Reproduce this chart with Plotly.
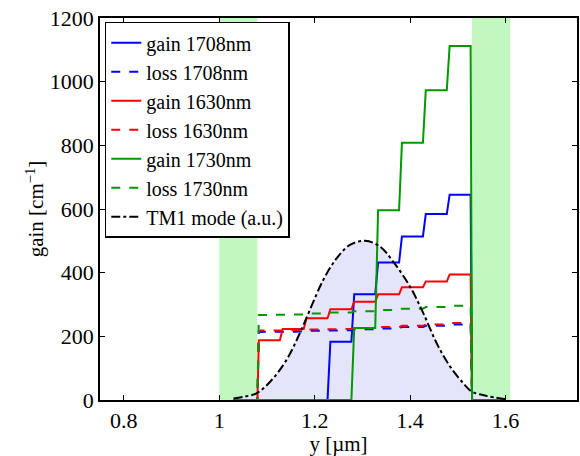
import plotly.graph_objects as go

# Layer boundaries along y [um]
bounds = [1.08, 1.13, 1.18, 1.23, 1.28, 1.33, 1.38, 1.43, 1.48, 1.53]
x_start, x_end = 1.03, 1.60

gain_1708 = [0, 0, 0, 183, 332, 432, 514, 584, 645]
loss_1708 = [214, 215, 217, 219, 222, 225, 229, 233, 237]
gain_1630 = [188, 223, 257, 285, 309, 332, 354, 372, 394]
loss_1630 = [218, 219, 221, 223, 226, 229, 233, 237, 242]
gain_1730 = [0, 0, 0, 0, 226, 596, 808, 973, 1112]
loss_1730 = [267, 269, 272, 275, 279, 283, 287, 292, 296]

mode_x = [1.03, 1.05, 1.078, 1.11, 1.141, 1.169, 1.19, 1.218, 1.246, 1.274,
          1.306, 1.337, 1.365, 1.40, 1.428, 1.456, 1.484, 1.512, 1.53, 1.56, 1.60]
mode_y = [5, 10, 21, 63, 126, 210, 283, 377, 445, 487,
          500, 482, 434, 356, 272, 178, 105, 52, 26, 13, 2]

# Cladding (green) bands
bands = [(1.00, 1.08), (1.53, 1.61)]

BLUE, RED, GREEN = "#0000ff", "#ff0000", "#009a00"
FONT = "Liberation Serif, Times New Roman, serif"


def steps(vals, eps=0.003):
    xs, ys = [x_start, bounds[0]], [0, 0]
    for k, v in enumerate(vals):
        xs += [bounds[k] + eps, bounds[k + 1] - eps]
        ys += [v, v]
    xs += [bounds[-1], x_end]
    ys += [0, 0]
    return xs, ys


fig = go.Figure()

for a, b in bands:
    fig.add_shape(type="rect", xref="x", yref="y", x0=a, x1=b, y0=0, y1=1200,
                  fillcolor="rgb(192,248,192)", line_width=0, layer="below")

fig.add_trace(go.Scatter(x=mode_x, y=mode_y, mode="lines", line=dict(width=0, shape="spline"),
                         fill="tozeroy", fillcolor="rgb(228,228,250)", showlegend=False,
                         hoverinfo="skip"))

series = [
    ("gain 1708nm", gain_1708, BLUE, "solid"),
    ("loss 1708nm", loss_1708, BLUE, "dash"),
    ("gain 1630nm", gain_1630, RED, "solid"),
    ("loss 1630nm", loss_1630, RED, "dash"),
    ("gain 1730nm", gain_1730, GREEN, "solid"),
    ("loss 1730nm", loss_1730, GREEN, "dash"),
]
for name, vals, col, dash in series:
    xs, ys = steps(vals)
    fig.add_trace(go.Scatter(x=xs, y=ys, mode="lines", name=name,
                             line=dict(color=col, width=2, dash=dash)))

fig.add_trace(go.Scatter(x=mode_x, y=mode_y, mode="lines", name="TM1 mode (a.u.)",
                         line=dict(color="black", width=2, dash="dashdot", shape="spline")))

axis_common = dict(showline=True, linecolor="black", linewidth=1.5, mirror="ticks",
                   ticks="inside", ticklen=5, tickcolor="black", showgrid=False,
                   zeroline=False, ticklabeloverflow="allow",
                   tickfont=dict(family=FONT, size=22, color="black"))

fig.update_layout(
    width=580, height=456,
    margin=dict(l=100, r=3, t=18, b=56, autoexpand=False),
    plot_bgcolor="white", paper_bgcolor="white",
    font=dict(family=FONT, color="black"),
    xaxis=dict(range=[0.75, 1.75], dtick=0.2, tick0=0.8,
               title=dict(text="y [µm]", font=dict(family=FONT, size=21), standoff=0),
               **axis_common),
    yaxis=dict(range=[0, 1200], dtick=200,
               title=dict(text="gain [cm<sup>−1</sup>]", font=dict(family=FONT, size=21), standoff=0),
               **axis_common),
    legend=dict(x=0.01, y=0.99, xanchor="left", yanchor="top",
                bgcolor="white", bordercolor="black", borderwidth=1.5,
                font=dict(family=FONT, size=20, color="black"),
                itemwidth=30, tracegroupgap=0),
    showlegend=True,
)

fig.write_html("out.html", config={"displayModeBar": False},
               post_script="document.body.style.margin='0px';document.body.style.overflow='hidden';")
